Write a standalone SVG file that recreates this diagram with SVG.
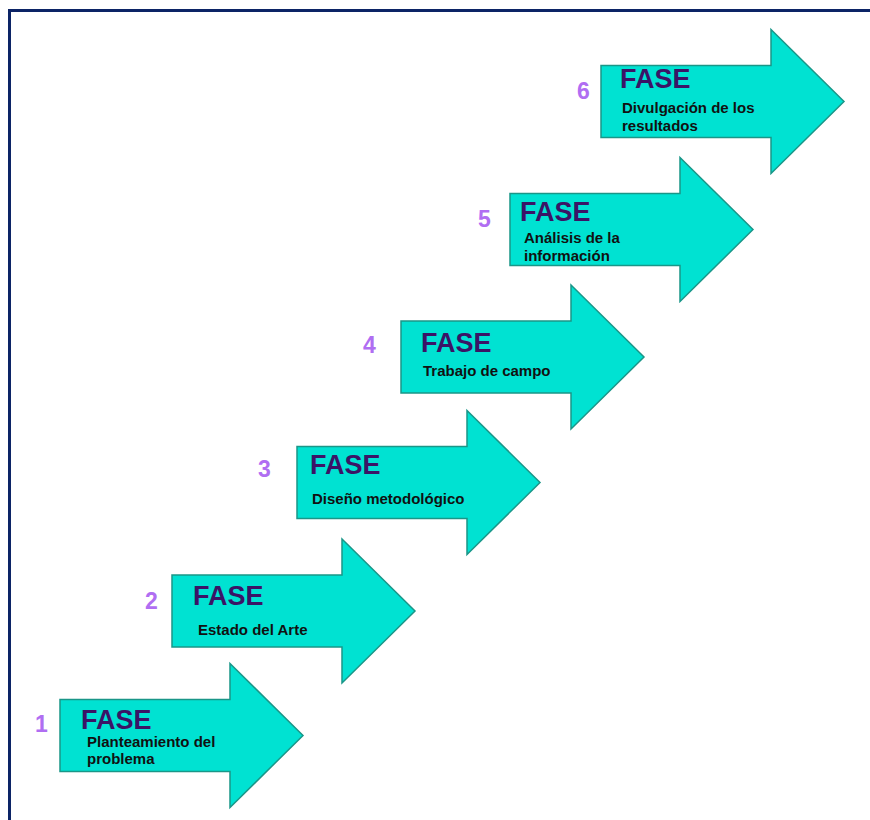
<svg xmlns="http://www.w3.org/2000/svg" xmlns:xlink="http://www.w3.org/1999/xlink" width="870" height="820" viewBox="0 0 870 820">
<style>
.arrow{fill:#00e2d2;stroke:#1a9688;stroke-width:1.5;stroke-linejoin:miter}
.fase{font-family:"Liberation Sans",Arial,sans-serif;font-weight:bold;font-size:27px;fill:#3b1466}
.sub{font-family:"Liberation Sans",Arial,sans-serif;font-weight:bold;font-size:15px;fill:#111111}
.num{font-family:"Liberation Sans",Arial,sans-serif;font-weight:bold;font-size:23px;fill:#b06ef2}
.frame{stroke:#0c2466;stroke-width:3;fill:none}
</style>
<defs>
<path id="arr" d="M0,0 H170 V-36 L243,36 L170,108 V72 H0 Z"/>
</defs>
<rect width="870" height="820" fill="#ffffff"/>
<g id="frame">
<path class="frame" d="M9.5,820 V10.5 H870"/>
</g>
<g id="connectors"></g>
<g id="fase1">
<use xlink:href="#arr" class="arrow" x="60" y="699.5"/>
<text class="num" x="35" y="732">1</text>
<text class="fase" x="81" y="729">FASE</text>
<text class="sub" x="87" y="747">Planteamiento del</text>
<text class="sub" x="87" y="764">problema</text>
</g>
<g id="fase2">
<use xlink:href="#arr" class="arrow" x="172" y="575"/>
<text class="num" x="145" y="609">2</text>
<text class="fase" x="193" y="605">FASE</text>
<text class="sub" x="198" y="635">Estado del Arte</text>
</g>
<g id="fase3">
<use xlink:href="#arr" class="arrow" x="297" y="446.5"/>
<text class="num" x="258" y="477">3</text>
<text class="fase" x="310" y="474">FASE</text>
<text class="sub" x="312" y="504">Diseño metodológico</text>
</g>
<g id="fase4">
<use xlink:href="#arr" class="arrow" x="401" y="321"/>
<text class="num" x="363" y="353">4</text>
<text class="fase" x="421" y="352">FASE</text>
<text class="sub" x="423" y="376">Trabajo de campo</text>
</g>
<g id="fase5">
<use xlink:href="#arr" class="arrow" x="510" y="193.5"/>
<text class="num" x="478" y="227">5</text>
<text class="fase" x="520" y="221">FASE</text>
<text class="sub" x="524" y="243">Análisis de la</text>
<text class="sub" x="524" y="261">información</text>
</g>
<g id="fase6">
<use xlink:href="#arr" class="arrow" x="601" y="65.5"/>
<text class="num" x="577" y="99">6</text>
<text class="fase" x="620" y="88">FASE</text>
<text class="sub" x="622" y="113">Divulgación de los</text>
<text class="sub" x="622" y="131">resultados</text>
</g>
</svg>
